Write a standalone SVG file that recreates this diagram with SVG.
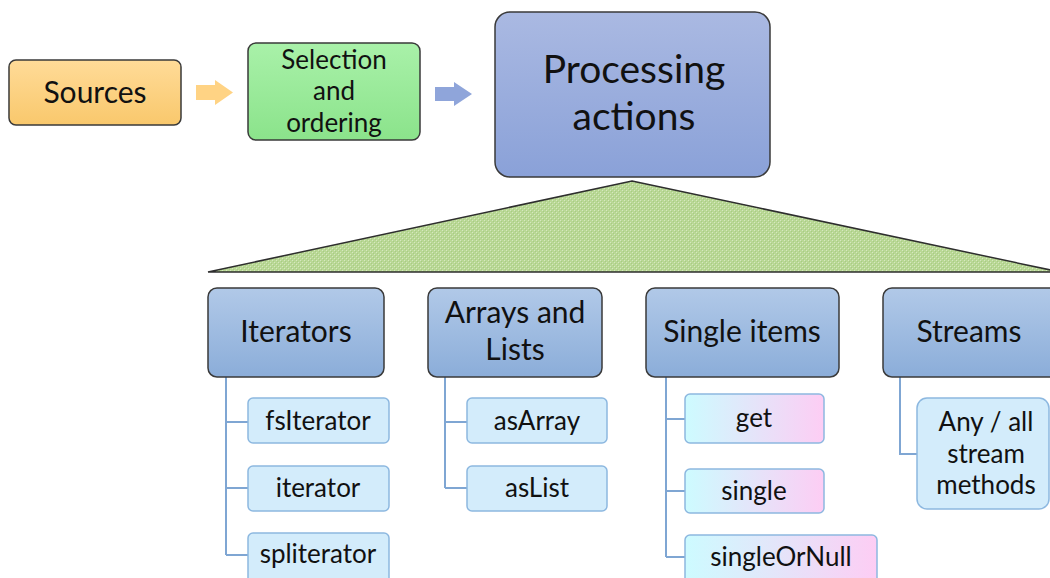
<svg xmlns="http://www.w3.org/2000/svg" width="1050" height="578" viewBox="0 0 1050 578">
<style>
text{font-family:Lato,"Open Sans","Liberation Sans",sans-serif;fill:#111;text-anchor:middle}
.hdr{stroke:#3a3a3a;stroke-width:1.5;fill:url(#gHdr)}
.sub{stroke:#8db8e0;stroke-width:1.5;fill:#d3ecfb}
.subp{stroke:#8db8e0;stroke-width:1.5;fill:url(#gPink)}
.conn{stroke:#7fa6d3;stroke-width:2;fill:none}
.t26{font-size:30px}
.t22{font-size:26px}
</style>
<defs>
<linearGradient id="gSrc" x1="0" y1="0" x2="0" y2="1"><stop offset="0" stop-color="#ffdb98"/><stop offset="1" stop-color="#f9c86c"/></linearGradient>
<linearGradient id="gSel" x1="0" y1="0" x2="0" y2="1"><stop offset="0" stop-color="#a9f1a9"/><stop offset="1" stop-color="#8be38b"/></linearGradient>
<linearGradient id="gProc" x1="0" y1="0" x2="0" y2="1"><stop offset="0" stop-color="#aab9e2"/><stop offset="1" stop-color="#8aa1d8"/></linearGradient>
<linearGradient id="gHdr" x1="0" y1="0" x2="0" y2="1"><stop offset="0" stop-color="#b1c9e8"/><stop offset="1" stop-color="#8badd9"/></linearGradient>
<linearGradient id="gPink" x1="0" y1="0" x2="1" y2="0"><stop offset="0" stop-color="#cdfbff"/><stop offset="1" stop-color="#fdcdf4"/></linearGradient>
<pattern id="pTri" width="4" height="4" patternUnits="userSpaceOnUse">
<rect width="4" height="4" fill="#b9d895"/>
<rect x="0" y="0" width="1" height="1" fill="#d6e8c0"/>
<rect x="2" y="2" width="1" height="1" fill="#d6e8c0"/>
<rect x="1" y="1" width="1" height="1" fill="#a8cb84"/>
<rect x="3" y="3" width="1" height="1" fill="#a8cb84"/>
</pattern>
</defs>

<g id="arrows">
<polygon points="196,85 215,85 215,80 233,92.5 215,105 215,100 196,100" fill="#ffd384"/>
<polygon points="435,87 454,87 454,82 472,94 454,106 454,101 435,101" fill="#8fa5da"/>
</g>

<g id="sources">
<rect x="9" y="60" width="172" height="65" rx="7" fill="url(#gSrc)" stroke="#3a3a3a" stroke-width="1.5"/>
<text x="95" y="103" class="t26">Sources</text>
</g>

<g id="selection">
<rect x="248" y="43" width="172" height="97" rx="8" fill="url(#gSel)" stroke="#3a3a3a" stroke-width="1.5"/>
<text x="334" y="69" class="t22">Selection</text>
<text x="334" y="100" class="t22">and</text>
<text x="334" y="132" class="t22">ordering</text>
</g>

<g id="processing">
<rect x="495" y="12" width="275" height="165" rx="15" fill="url(#gProc)" stroke="#3a3a3a" stroke-width="1.5"/>
<text x="634" y="83" font-size="39">Processing</text>
<text x="634" y="130" font-size="39">actions</text>
</g>

<g id="fan">
<polygon points="632,181 1060,272 208,272" fill="url(#pTri)" stroke="#2e2e2e" stroke-width="1.5"/>
</g>

<g id="connectors">
<path class="conn" d="M226,377 V555 M226,422 H248 M226,488 H248 M226,555 H248"/>
<path class="conn" d="M445,377 V488 M445,422 H467 M445,488 H467"/>
<path class="conn" d="M666,377 V557 M666,419 H685 M666,491 H685 M666,557 H685"/>
<path class="conn" d="M900,377 V454 H917"/>
</g>

<g id="iterators">
<rect class="hdr" x="208" y="288" width="176" height="89" rx="9"/>
<text x="296" y="342" class="t26">Iterators</text>
</g>
<g id="fsIterator"><rect class="sub" x="248" y="398" width="141" height="45" rx="5"/><text x="318" y="430" class="t22">fsIterator</text></g>
<g id="iterator"><rect class="sub" x="248" y="466" width="141" height="45" rx="5"/><text x="318" y="497" class="t22">iterator</text></g>
<g id="spliterator"><rect class="sub" x="248" y="533" width="141" height="50" rx="5"/><text x="318" y="563" class="t22">spliterator</text></g>

<g id="arrays">
<rect class="hdr" x="428" y="288" width="174" height="89" rx="9"/>
<text x="515" y="323" class="t26">Arrays and</text>
<text x="515" y="360" class="t26">Lists</text>
</g>
<g id="asArray"><rect class="sub" x="467" y="398" width="140" height="45" rx="5"/><text x="537" y="430" class="t22">asArray</text></g>
<g id="asList"><rect class="sub" x="467" y="466" width="140" height="45" rx="5"/><text x="537" y="497" class="t22">asList</text></g>

<g id="single-items">
<rect class="hdr" x="646" y="288" width="193" height="89" rx="9"/>
<text x="742" y="342" class="t26">Single items</text>
</g>
<g id="get"><rect class="subp" x="685" y="394" width="139" height="49" rx="5"/><text x="754" y="427" class="t22">get</text></g>
<g id="single"><rect class="subp" x="685" y="469" width="139" height="44" rx="5"/><text x="754" y="500" class="t22">single</text></g>
<g id="singleOrNull"><rect class="subp" x="685" y="535" width="192" height="50" rx="5"/><text x="781" y="566" class="t22">singleOrNull</text></g>

<g id="streams">
<rect class="hdr" x="883" y="288" width="175" height="89" rx="9"/>
<text x="969" y="342" class="t26">Streams</text>
</g>
<g id="any-all"><rect class="sub" x="917" y="398" width="132" height="111" rx="10"/>
<text x="986" y="431" class="t22">Any / all</text>
<text x="986" y="463" class="t22">stream</text>
<text x="986" y="494" class="t22">methods</text>
</g>
</svg>
